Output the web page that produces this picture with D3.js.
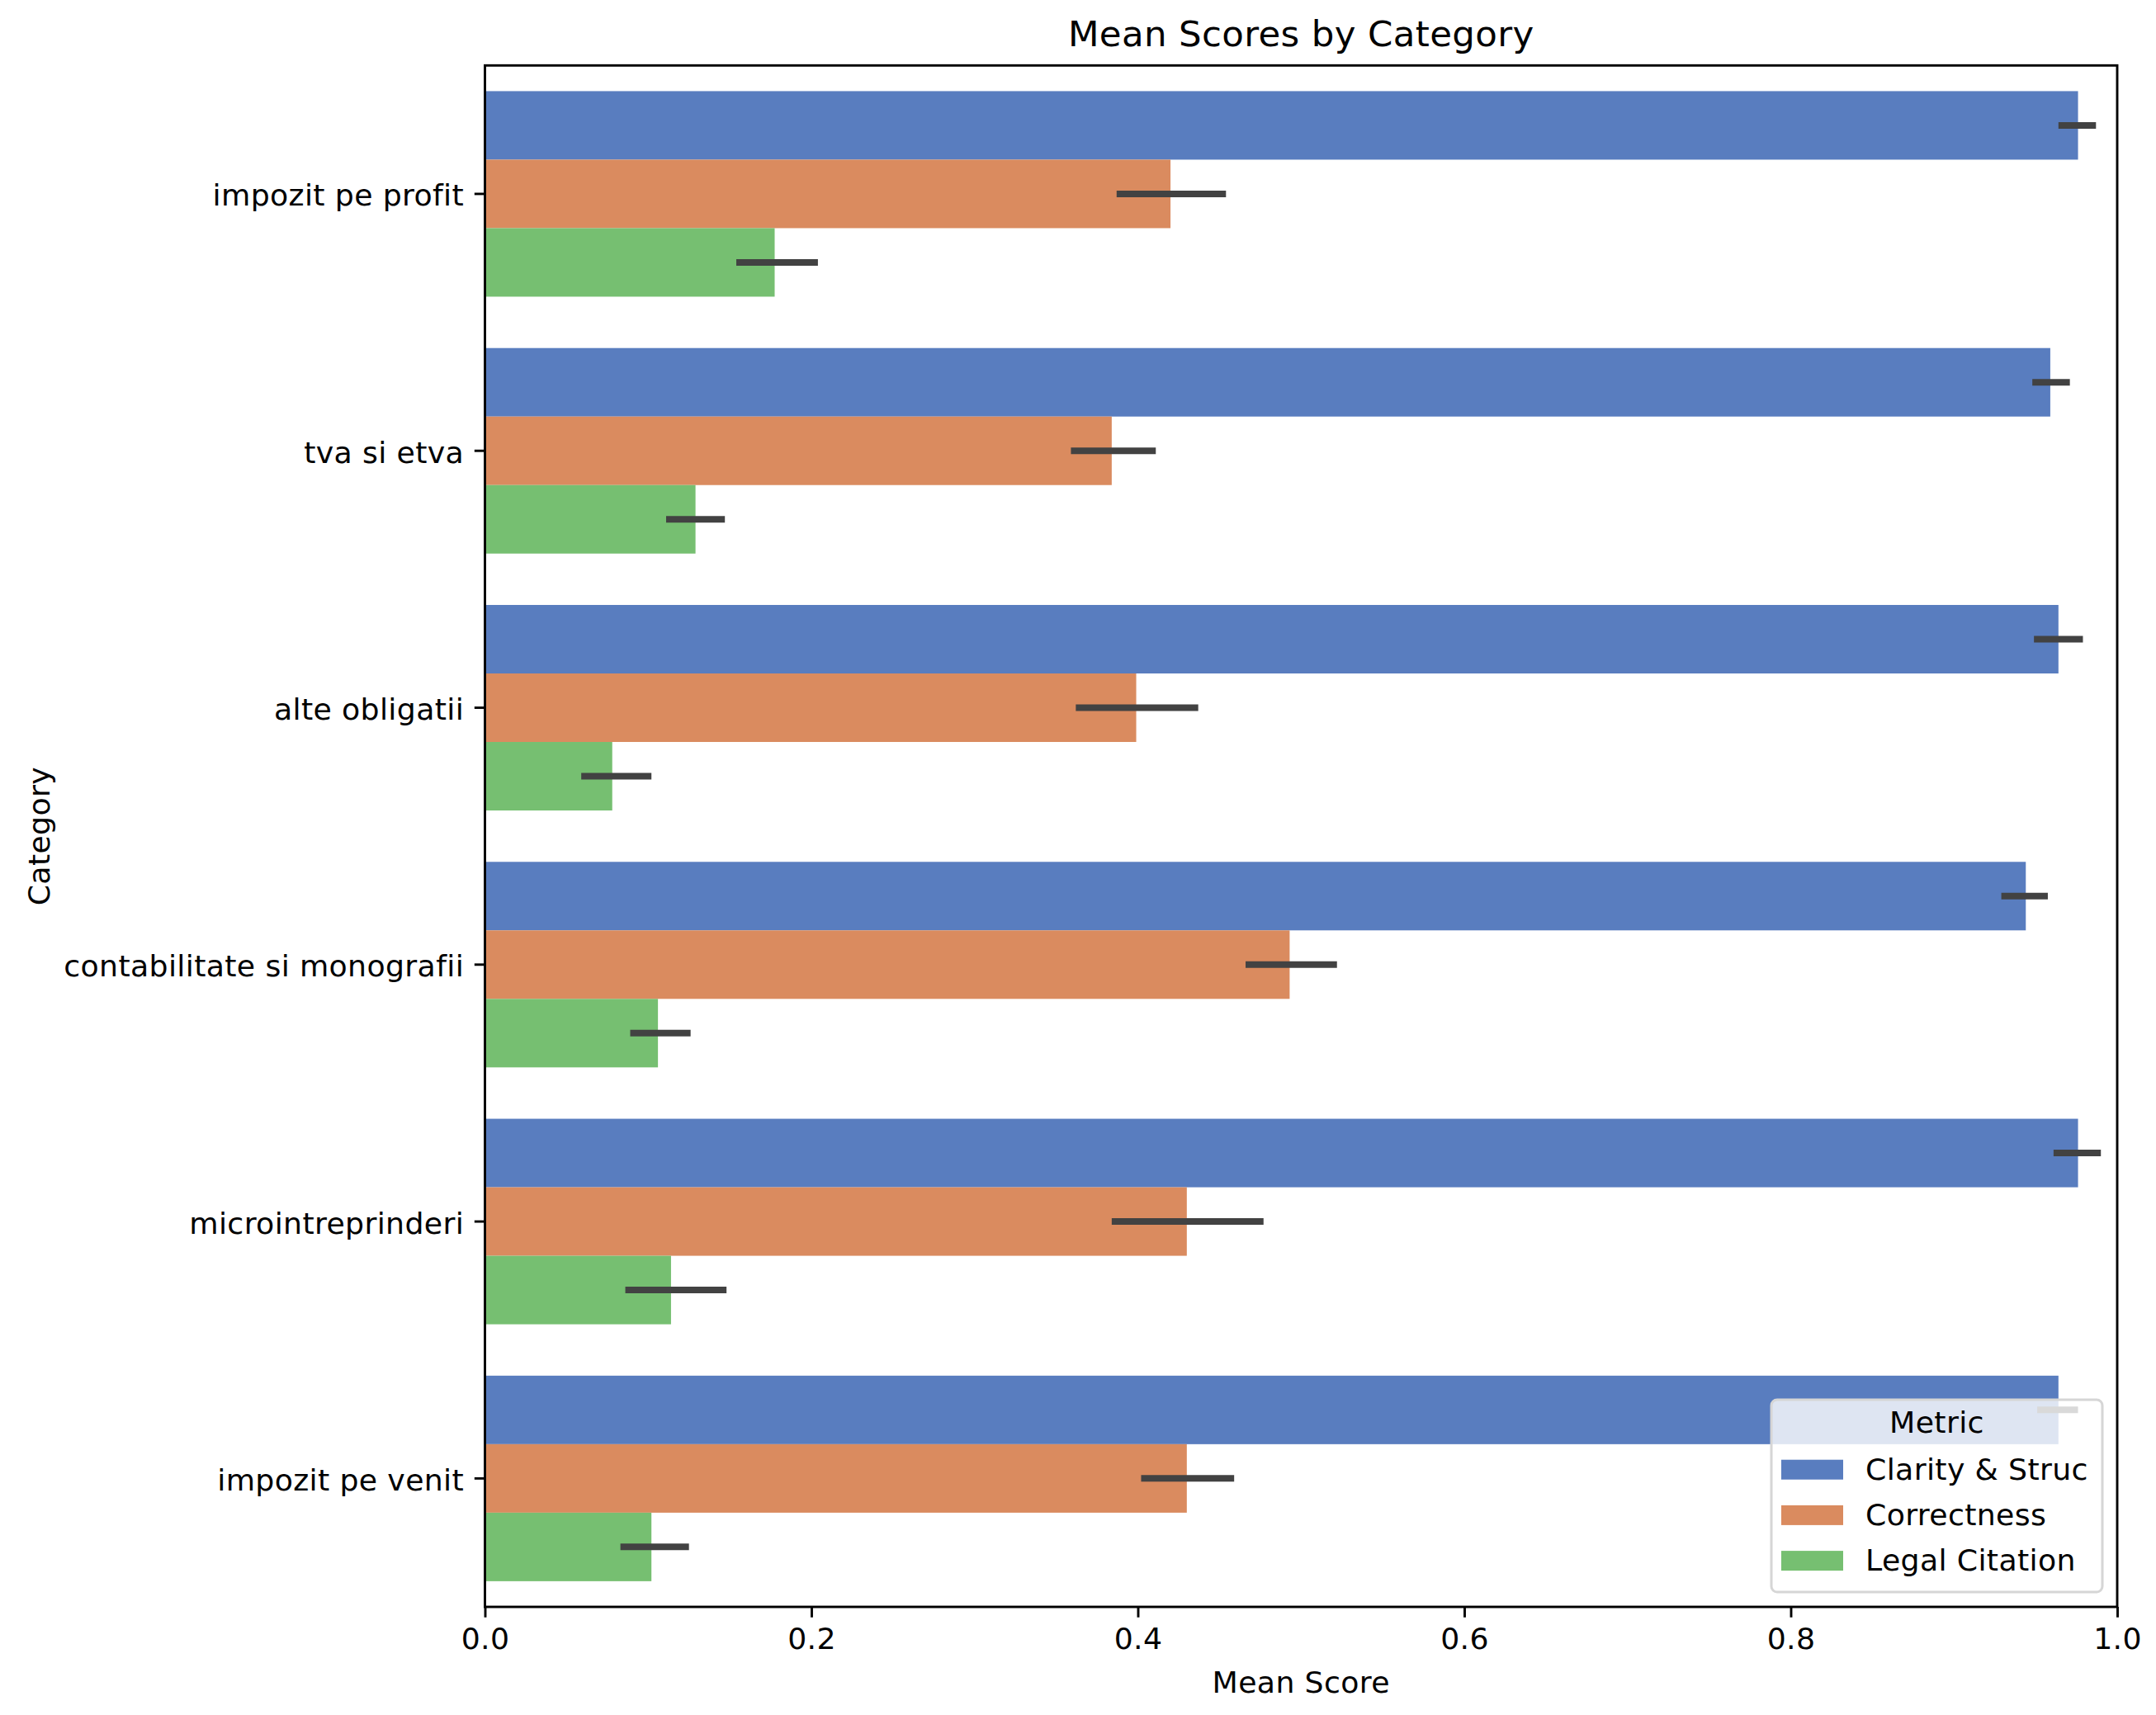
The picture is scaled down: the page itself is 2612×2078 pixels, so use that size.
<!DOCTYPE html>
<html>
<head>
<meta charset="utf-8">
<script src="https://cdn.jsdelivr.net/npm/d3@7"></script>
<style>
    body { margin: 0; background: #fff; }
    svg text { font-family: "DejaVu Sans", sans-serif; fill: #000; letter-spacing: 0.35px; }
</style>
</head>
<body>
<div id="chart"></div>
<script>
// categories, top to bottom
var categories = ['impozit pe profit', 'tva si etva', 'alte obligatii',
    'contabilitate si monografii', 'microintreprinderi', 'impozit pe venit'];
var metrics = ['Clarity & Struc', 'Correctness', 'Legal Citation'];

// mean values per metric (same order as categories)
var clarity = [0.976, 0.959, 0.964, 0.944, 0.976, 0.964];
var correctness = [0.420, 0.384, 0.399, 0.493, 0.430, 0.430];
var legal = [0.1775, 0.129, 0.078, 0.106, 0.114, 0.102];

// confidence intervals (low / high)
var clarityLo = [0.964, 0.948, 0.949, 0.929, 0.961, 0.951];
var clarityHi = [0.987, 0.971, 0.979, 0.9575, 0.990, 0.976];
var correctnessLo = [0.387, 0.359, 0.362, 0.466, 0.384, 0.402];
var correctnessHi = [0.454, 0.411, 0.437, 0.522, 0.477, 0.459];
var legalLo = [0.154, 0.111, 0.059, 0.089, 0.086, 0.083];
var legalHi = [0.204, 0.147, 0.102, 0.126, 0.148, 0.125];

var xTicks = [0, 0.2, 0.4, 0.6, 0.8, 1.0];

var colors = ['#597dbf', '#da8b5f', '#76bf71'];

var width = 2612,
    height = 2078,
    margin = {top: 79.3, right: 47, bottom: 131, left: 587.5},
    fontSize = 36.25,
    tick = 12.7;

var innerW = width - margin.left - margin.right,
    innerH = height - margin.top - margin.bottom;

var series = [
    {name: metrics[0], mean: clarity, lo: clarityLo, hi: clarityHi},
    {name: metrics[1], mean: correctness, lo: correctnessLo, hi: correctnessHi},
    {name: metrics[2], mean: legal, lo: legalLo, hi: legalHi}
];

// flat table for the bars
var rows = [];
categories.forEach(function (c, i) {
    series.forEach(function (s, j) {
        rows.push({cat: c, metric: s.name, k: j, v: s.mean[i], lo: s.lo[i], hi: s.hi[i]});
    });
});

var x = d3.scaleLinear().domain([0, 1]).range([0, innerW]);
var y = d3.scaleBand().domain(categories).range([0, innerH])
    .paddingInner(0.2).paddingOuter(0.1);
var yInner = d3.scaleBand().domain(metrics).range([0, y.bandwidth()]);
var color = d3.scaleOrdinal().domain(metrics).range(colors);

var svg = d3.select('#chart').append('svg')
    .attr('width', width)
    .attr('height', height);

var g = svg.append('g')
    .attr('transform', 'translate(' + margin.left + ',' + margin.top + ')');

renderBars();
renderErrors();
renderAxes();
renderLegend();
renderTitles();

function renderBars() {
    g.append('g').selectAll('rect')
        .data(rows)
        .enter()
        .append('rect')
        .attr('x', x(0))
        .attr('y', function (d) { return y(d.cat) + yInner(d.metric); })
        .attr('width', function (d) { return x(d.v) - x(0); })
        .attr('height', yInner.bandwidth())
        .attr('fill', function (d) { return color(d.metric); });
}

function renderErrors() {
    g.append('g').selectAll('line')
        .data(rows)
        .enter()
        .append('line')
        .attr('x1', function (d) { return x(d.lo); })
        .attr('x2', function (d) { return x(d.hi); })
        .attr('y1', function (d) { return y(d.cat) + yInner(d.metric) + yInner.bandwidth() / 2; })
        .attr('y2', function (d) { return y(d.cat) + yInner(d.metric) + yInner.bandwidth() / 2; })
        .attr('stroke', '#424242')
        .attr('stroke-width', 8);
}

function renderAxes() {
    var xAxis = d3.axisBottom(x)
        .tickValues(xTicks)
        .tickFormat(d3.format('.1f'))
        .tickSize(tick)
        .tickPadding(tick);
    var yAxis = d3.axisLeft(y)
        .tickSize(tick)
        .tickPadding(tick);

    var xg = g.append('g')
        .attr('transform', 'translate(0,' + innerH + ')')
        .call(xAxis);
    var yg = g.append('g').call(yAxis);

    [xg, yg].forEach(function (a) {
        a.select('.domain').remove();
        a.selectAll('line').attr('stroke', '#000').attr('stroke-width', 2.9);
        a.selectAll('text')
            .attr('font-size', fontSize)
            .attr('font-family', '"DejaVu Sans", sans-serif')
            .attr('fill', '#000');
    });
    yg.selectAll('text').attr('dy', '0.4em');

    // frame (spines)
    g.append('rect')
        .attr('width', innerW)
        .attr('height', innerH)
        .attr('fill', 'none')
        .attr('stroke', '#000')
        .attr('stroke-width', 2.9);
}

function renderLegend() {
    var lw = 401, lh = 233;
    var legend = g.append('g')
        .attr('transform', 'translate(' + (innerW - 18 - lw) + ',' + (innerH - 18 - lh) + ')');

    legend.append('rect')
        .attr('width', lw)
        .attr('height', lh)
        .attr('rx', 7)
        .attr('fill', '#fff')
        .attr('fill-opacity', 0.8)
        .attr('stroke', '#d6d6d6')
        .attr('stroke-width', 3);

    legend.append('text')
        .attr('x', lw / 2)
        .attr('y', 40)
        .attr('text-anchor', 'middle')
        .attr('font-size', fontSize)
        .text('Metric');

    var items = legend.selectAll('g.item')
        .data(metrics)
        .enter()
        .append('g')
        .attr('class', 'item')
        .attr('transform', function (d, i) { return 'translate(0,' + (96.7 + i * 55.2) + ')'; });

    items.append('rect')
        .attr('x', 12)
        .attr('y', -24)
        .attr('width', 75)
        .attr('height', 24)
        .attr('fill', function (d) { return color(d); });

    items.append('text')
        .attr('x', 114)
        .attr('y', 0)
        .attr('font-size', fontSize)
        .text(function (d) { return d; });
}

function renderTitles() {
    svg.append('text')
        .attr('x', margin.left + innerW / 2)
        .attr('y', 56)
        .attr('text-anchor', 'middle')
        .attr('font-size', 43.5)
        .text('Mean Scores by Category');

    svg.append('text')
        .attr('x', margin.left + innerW / 2)
        .attr('y', 2051)
        .attr('text-anchor', 'middle')
        .attr('font-size', fontSize)
        .text('Mean Score');

    svg.append('text')
        .attr('transform', 'translate(60,' + (margin.top + innerH / 2) + ') rotate(-90)')
        .attr('text-anchor', 'middle')
        .attr('font-size', fontSize)
        .text('Category');
}
</script>
</body>
</html>
